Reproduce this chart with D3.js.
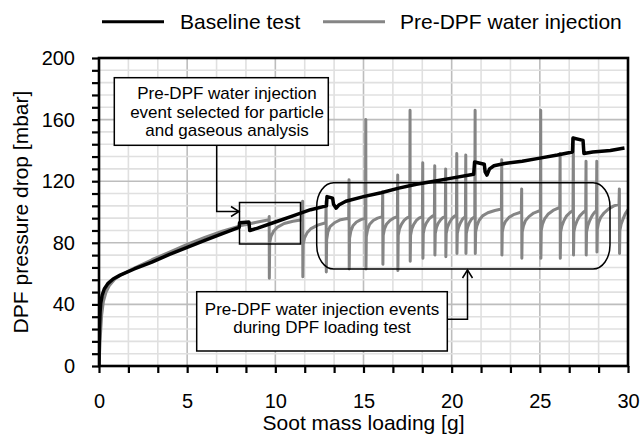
<!DOCTYPE html>
<html><head><meta charset="utf-8">
<script src="https://cdn.jsdelivr.net/npm/d3@7"></script>
<style>
html,body{margin:0;padding:0;background:#fff;}
svg text{font-family:"Liberation Sans",Arial,Helvetica,sans-serif;fill:#000;}
</style></head>
<body>
<svg id="chart" width="641" height="445"></svg>
<script>
// ---------- data ----------
const xTicks = [0, 5, 10, 15, 20, 25, 30];
const yTicks = [0, 40, 80, 120, 160, 200];
const seriesNames = ["Baseline test", "Pre-DPF water injection"];
const xLabel = "Soot mass loading [g]";
const yLabel = "DPF pressure drop [mbar]";

const baseline = [
  [0,0],[0.01,12],[0.03,25],[0.06,35],[0.1,41],[0.18,46],[0.3,50],[0.5,53.5],[0.8,56.5],
  [1.2,59],[2,63],[3,67.5],[4,72.5],[5,77],[6,81.5],[7,86],[7.6,88.5],[7.95,90],[7.97,93],
  [8.5,93.5],[8.55,88],[9,89.5],[10,93.5],[11,97.5],[12,101.5],[12.9,104],[12.93,110],
  [13.25,109],[13.3,105],[13.45,102.5],[13.6,104.5],[14,107],[15,110],[16,112.5],[17,115.5],
  [18,118],[19,120],[20,122],[21.25,124.5],[21.3,132.5],[21.85,131],[21.9,126],[22,124],
  [22.15,128],[22.4,130],[23,131.5],[24,133],[25,135],[26,137],[26.85,139],[26.88,148],
  [27.45,146.5],[27.5,138],[28,139],[29,140],[29.8,141.5]
];

const injection = [
  [0,0],[0.03,8],[0.08,20],[0.15,33],[0.25,42],[0.4,48],[0.6,52.5],[0.9,56.5],[1.3,59.5],
  [2,63.5],[3,69],[4,74],[5,79],[6,83.5],[7,87.5],[8,91],[9,93.5],[9.65,95],
  [9.65,97],[9.66,57],[9.68,80],[9.75,84],[9.9,87.5],[10.1,90],[10.5,92.5],[11,94],[11.53,95],
  [11.55,107],[11.56,58],[11.58,79],[11.65,83],[11.8,86.5],[12,89],[12.4,91.5],[12.86,93],
  [12.88,107],[12.89,61],[12.91,82],[12.98,87],[13.1,90.5],[13.35,93],[13.7,95],[14.16,96],
  [14.18,121],[14.19,63],[14.21,83],[14.28,87.5],[14.4,91],[14.6,93.5],[14.85,95],[15.11,96],
  [15.13,160],[15.14,63],[15.16,84],[15.23,88.5],[15.35,92],[15.55,94.5],[15.8,96],[16.07,97],
  [16.09,113],[16.1,66],[16.12,85],[16.19,89],[16.3,92],[16.5,94.5],[16.7,96],[16.92,97],
  [16.94,124],[16.95,62],[16.97,85],[17.04,89],[17.15,92],[17.3,94.5],[17.45,96],[17.62,97],
  [17.64,166],[17.65,68],[17.67,85],[17.74,89],[17.85,92],[18,94.5],[18.15,96],[18.34,97],
  [18.36,132],[18.37,70],[18.39,86],[18.46,90],[18.57,93],[18.72,95.5],[18.87,97],[19.02,98],
  [19.04,130],[19.05,72],[19.07,86],[19.14,90],[19.25,93],[19.38,95],[19.5,96.3],[19.64,97],
  [19.66,128],[19.67,71],[19.69,86],[19.76,90],[19.87,93],[20,95.5],[20.13,97],[20.27,98],
  [20.29,138],[20.3,73],[20.32,86],[20.39,90],[20.5,93],[20.62,95.5],[20.78,97],
  [20.8,137],[20.81,73],[20.83,86],[20.9,90],[21.0,93],[21.13,95.5],[21.31,97],
  [21.33,166],[21.34,73],[21.36,87],[21.43,91],[21.55,94.5],[21.75,97.5],[22.05,99.5],[22.45,101],[22.82,102],
  [22.84,134],[22.85,72],[22.87,87],[22.94,91],[23.06,94],[23.25,96.5],[23.55,98.5],[23.95,100],
  [23.97,115],[23.98,70],[24,87],[24.07,91],[24.19,94.5],[24.38,97],[24.65,99.3],[25.03,101],
  [25.05,166],[25.06,70],[25.08,88],[25.15,92],[25.27,95.5],[25.46,98.5],[25.75,101],[26.13,103],
  [26.15,138],[26.16,70],[26.18,87],[26.25,91],[26.37,94.5],[26.52,97.5],[26.7,99.5],[26.88,101],
  [26.9,148],[26.91,72],[26.93,87],[27,91],[27.12,94.5],[27.27,97.5],[27.44,99.5],[27.6,101],
  [27.62,133],[27.63,72],[27.65,87],[27.72,91],[27.83,94.5],[27.96,97.5],[28.08,99.5],[28.21,101],
  [28.23,133],[28.24,74],[28.26,89],[28.33,93],[28.45,96.5],[28.65,99.5],[28.9,102],[29.2,104],[29.49,105],
  [29.51,115],[29.52,73],[29.54,88],[29.61,92],[29.72,95.5],[29.85,99],[30,101.5]
];

// ---------- layout ----------
const svg = d3.select("#chart");
const x = d3.scaleLinear().domain([0, 30]).range([99, 628]);
const y = d3.scaleLinear().domain([0, 200]).range([366, 58]);
const xGrid = d3.range(0, 30.001, 5 / 3);
const yGrid = d3.range(0, 200.001, 8);
const isMajX = d => Math.abs(d / 5 - Math.round(d / 5)) < 1e-6;
const isMajY = d => Math.abs(d / 40 - Math.round(d / 40)) < 1e-6;

// grid
const grid = svg.append("g");
grid.selectAll(".gx").data(xGrid).join("line")
  .attr("x1", d => x(d)).attr("x2", d => x(d)).attr("y1", y(0)).attr("y2", y(200))
  .attr("stroke", d => isMajX(d) ? "#bdbdbd" : "#e0e0e0").attr("stroke-width", 1.6);
grid.selectAll(".gy").data(yGrid).join("line")
  .attr("y1", d => y(d)).attr("y2", d => y(d)).attr("x1", x(0)).attr("x2", x(30))
  .attr("stroke", d => isMajY(d) ? "#bdbdbd" : "#e0e0e0").attr("stroke-width", 1.6);

// clip
svg.append("clipPath").attr("id", "clip").append("rect")
  .attr("x", x(0)).attr("y", y(200)).attr("width", x(30) - x(0)).attr("height", y(0) - y(200));

const line = d3.line().x(d => x(d[0])).y(d => y(d[1]));
const plot = svg.append("g").attr("clip-path", "url(#clip)");
plot.append("path").datum(injection).attr("d", line)
  .attr("fill", "none").attr("stroke", "#858585").attr("stroke-width", 3).attr("stroke-linejoin", "round");
plot.append("path").datum(baseline).attr("d", line)
  .attr("fill", "none").attr("stroke", "#000").attr("stroke-width", 3.5).attr("stroke-linejoin", "round");

// axes
const xAxis = d3.axisBottom(x).tickValues(xGrid).tickSize(7).tickPadding(21)
  .tickFormat(d => isMajX(d) ? Math.round(d) : "");
const gx = svg.append("g").attr("transform", `translate(0,${y(0)})`).call(xAxis);
const yAxis = d3.axisLeft(y).tickValues(yGrid).tickSize(7).tickPadding(17)
  .tickFormat(d => isMajY(d) ? Math.round(d) : "");
const gy = svg.append("g").attr("transform", `translate(${x(0)},0)`).call(yAxis);
[gx, gy].forEach(g => {
  g.select(".domain").remove();
  g.selectAll(".tick line").attr("stroke", "#000").attr("stroke-width", 2.2);
  g.selectAll(".tick text").attr("font-size", 20).attr("fill", "#000")
    .style("font-family", '"Liberation Sans",Arial,sans-serif');
});

// frame
svg.append("rect").attr("x", x(0)).attr("y", y(200)).attr("width", x(30) - x(0)).attr("height", y(0) - y(200))
  .attr("fill", "none").attr("stroke", "#000").attr("stroke-width", 2.6);

// axis titles
svg.append("text").attr("x", (x(0) + x(30)) / 2).attr("y", 430).attr("text-anchor", "middle")
  .attr("font-size", 21).text(xLabel);
svg.append("text").attr("transform", `translate(28,${(y(0) + y(200)) / 2}) rotate(-90)`)
  .attr("text-anchor", "middle").attr("font-size", 21).text(yLabel);

// legend
const legend = [
  {name: seriesNames[0], color: "#000", x1: 102, x2: 164, tx: 180},
  {name: seriesNames[1], color: "#858585", x1: 323, x2: 385, tx: 400}
];
legend.forEach(l => {
  svg.append("line").attr("x1", l.x1).attr("x2", l.x2).attr("y1", 21.7).attr("y2", 21.7)
    .attr("stroke", l.color).attr("stroke-width", 3);
  svg.append("text").attr("x", l.tx).attr("y", 29).attr("font-size", 21).text(l.name);
});

// annotations
const ann = svg.append("g").attr("fill", "none").attr("stroke", "#000").attr("stroke-width", 1.5);
// selected event box
ann.append("rect").attr("x", 239.5).attr("y", 202.5).attr("width", 61).attr("height", 41.5);
// events rounded box
ann.append("rect").attr("x", 316.7).attr("y", 182.7).attr("width", 293.3).attr("height", 86.3)
  .attr("rx", 17).attr("ry", 24);
// connector 1
ann.append("path").attr("d", "M216.7,145 V211.5 H239");
ann.append("path").attr("d", "M231,206.5 L239,211.5 L231,216.5");
// connector 2
ann.append("path").attr("d", "M447,319.3 H467.5 V270");
ann.append("path").attr("d", "M462.5,278 L467.5,270 L472.5,278");

// text box 1
svg.append("rect").attr("x", 114.3).attr("y", 77.7).attr("width", 214).attr("height", 67.6)
  .attr("fill", "#fff").attr("stroke", "#000").attr("stroke-width", 1.5);
["Pre-DPF water injection", "event selected for particle", "and gaseous analysis"].forEach((t, i) => {
  svg.append("text").attr("x", 227).attr("y", 99.3 + i * 18.2).attr("text-anchor", "middle")
    .attr("font-size", 17).text(t);
});
// text box 2
svg.append("rect").attr("x", 196.7).attr("y", 291.7).attr("width", 250.6).attr("height", 59.3)
  .attr("fill", "#fff").attr("stroke", "#000").attr("stroke-width", 1.5);
["Pre-DPF water injection events", "during DPF loading test"].forEach((t, i) => {
  svg.append("text").attr("x", 322).attr("y", 315 + i * 18.3).attr("text-anchor", "middle")
    .attr("font-size", 17).text(t);
});
</script>
</body></html>
